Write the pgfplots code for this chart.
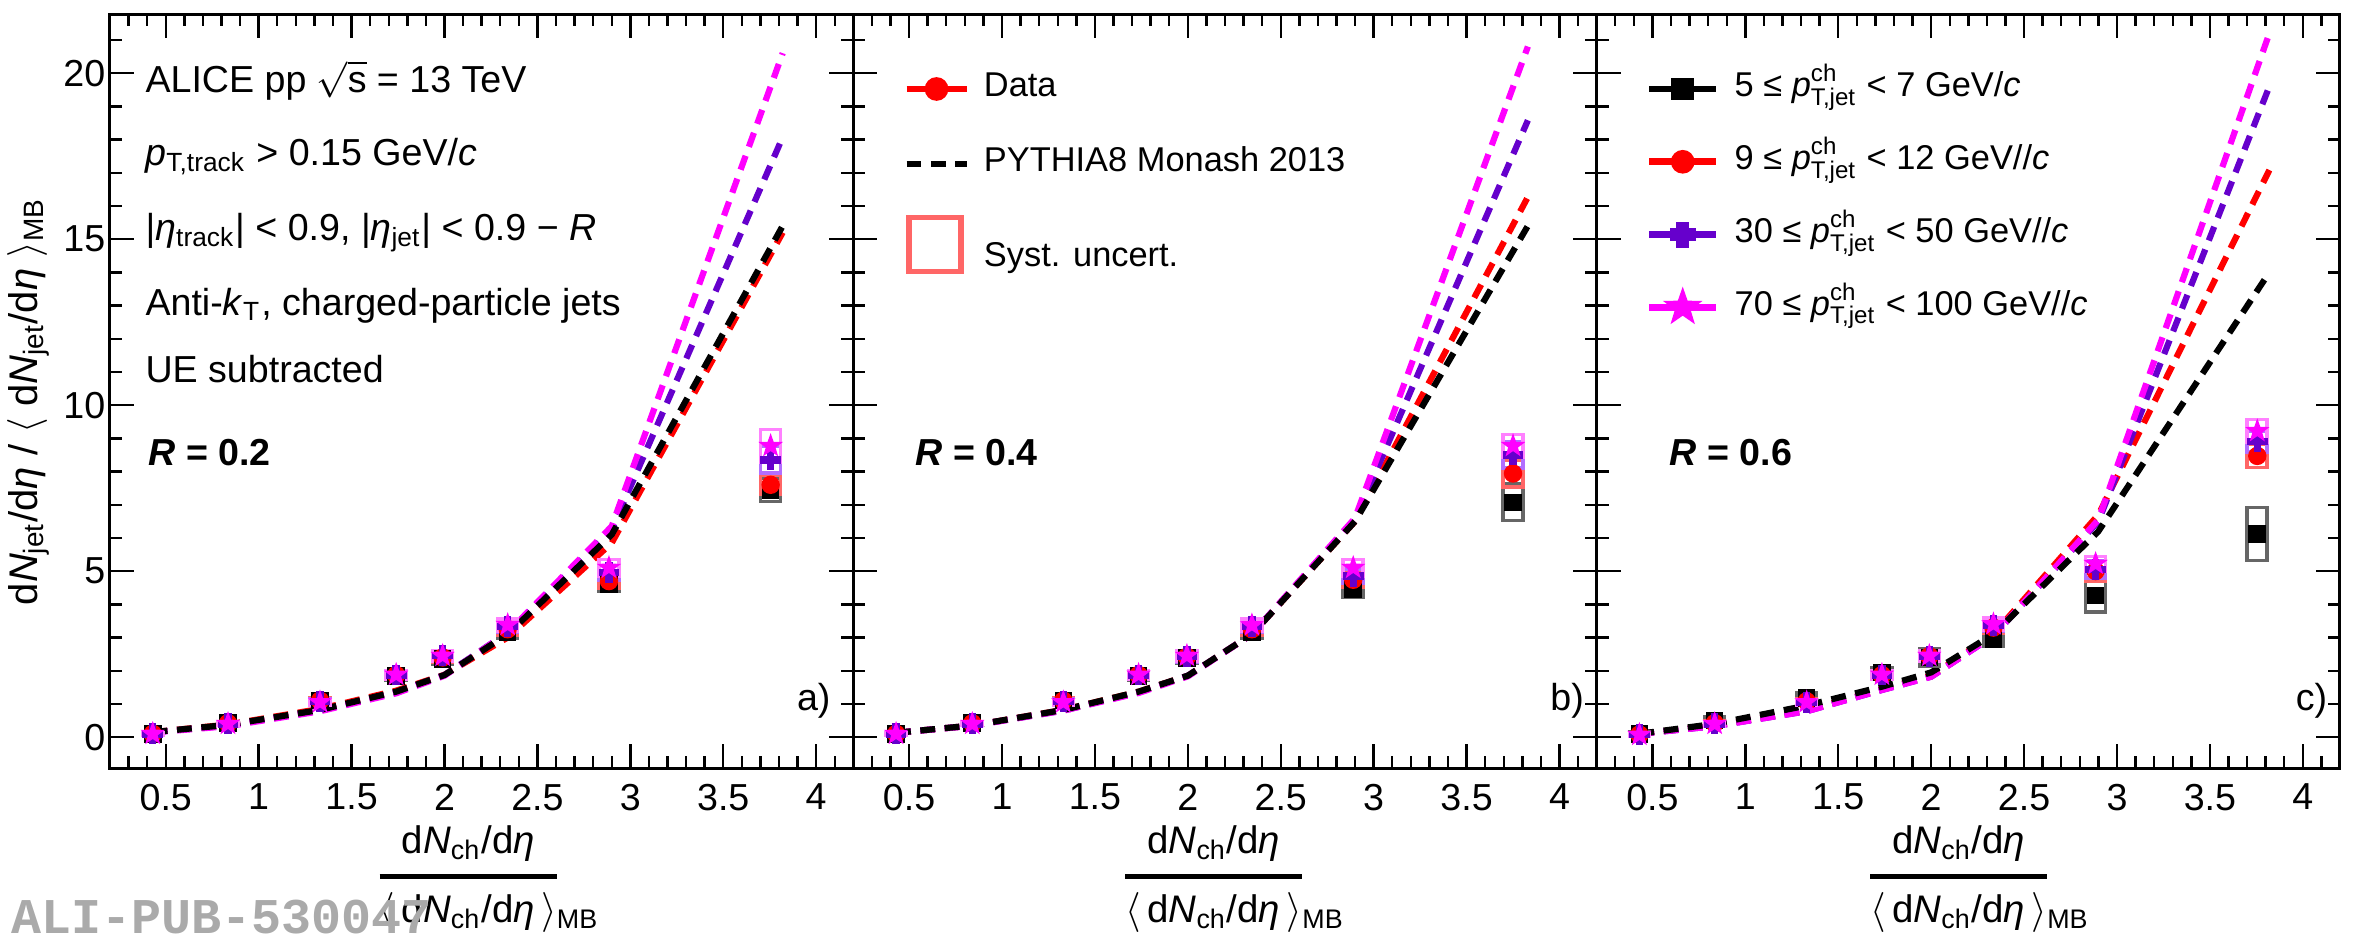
\documentclass[border=0pt]{standalone}
\usepackage{amsmath}
\usepackage{fontspec}
\setmainfont{Liberation Sans}
\newfontfamily\alimono{Liberation Mono}
\usepackage{pgfplots}
\usepackage{pgfplotstable}
\pgfplotsset{compat=1.18}

\definecolor{cpur}{RGB}{102,0,204}
\definecolor{cmag}{RGB}{255,0,255}
\definecolor{sblk}{RGB}{102,102,102}
\definecolor{sred}{RGB}{255,102,102}
\definecolor{spur}{RGB}{178,110,255}
\definecolor{smag}{RGB}{255,128,255}
\definecolor{alig}{RGB}{170,170,170}

\def\sy{0}
\pgfdeclareplotmark{sbox}{%
  \pgfpathrectangle{\pgfpoint{-2.5pt}{-\sy pt}}{\pgfpoint{5pt}{2*\sy pt}}%
  \pgfusepathqstroke}
\pgfdeclareplotmark{fullstar}{%
  \pgfpathmoveto{\pgfpointpolar{90}{\pgfplotmarksize}}%
  \pgfpathlineto{\pgfpointpolar{126}{0.4\pgfplotmarksize}}%
  \pgfpathlineto{\pgfpointpolar{162}{\pgfplotmarksize}}%
  \pgfpathlineto{\pgfpointpolar{198}{0.4\pgfplotmarksize}}%
  \pgfpathlineto{\pgfpointpolar{234}{\pgfplotmarksize}}%
  \pgfpathlineto{\pgfpointpolar{270}{0.4\pgfplotmarksize}}%
  \pgfpathlineto{\pgfpointpolar{306}{\pgfplotmarksize}}%
  \pgfpathlineto{\pgfpointpolar{342}{0.4\pgfplotmarksize}}%
  \pgfpathlineto{\pgfpointpolar{18}{\pgfplotmarksize}}%
  \pgfpathlineto{\pgfpointpolar{54}{0.4\pgfplotmarksize}}%
  \pgfpathclose\pgfusepathqfillstroke}
\pgfdeclareplotmark{fullcross}{%
  \pgfpathmoveto{\pgfpoint{0.3\pgfplotmarksize}{\pgfplotmarksize}}%
  \pgfpathlineto{\pgfpoint{-0.3\pgfplotmarksize}{\pgfplotmarksize}}%
  \pgfpathlineto{\pgfpoint{-0.3\pgfplotmarksize}{0.3\pgfplotmarksize}}%
  \pgfpathlineto{\pgfpoint{-\pgfplotmarksize}{0.3\pgfplotmarksize}}%
  \pgfpathlineto{\pgfpoint{-\pgfplotmarksize}{-0.3\pgfplotmarksize}}%
  \pgfpathlineto{\pgfpoint{-0.3\pgfplotmarksize}{-0.3\pgfplotmarksize}}%
  \pgfpathlineto{\pgfpoint{-0.3\pgfplotmarksize}{-\pgfplotmarksize}}%
  \pgfpathlineto{\pgfpoint{0.3\pgfplotmarksize}{-\pgfplotmarksize}}%
  \pgfpathlineto{\pgfpoint{0.3\pgfplotmarksize}{-0.3\pgfplotmarksize}}%
  \pgfpathlineto{\pgfpoint{\pgfplotmarksize}{-0.3\pgfplotmarksize}}%
  \pgfpathlineto{\pgfpoint{\pgfplotmarksize}{0.3\pgfplotmarksize}}%
  \pgfpathlineto{\pgfpoint{0.3\pgfplotmarksize}{0.3\pgfplotmarksize}}%
  \pgfpathclose\pgfusepathqfillstroke}

% data: x, value and syst. uncertainty per pT,jet bin (1: 5-7, 2: 9-12, 3: 30-50, 4: 70-100)
\pgfplotstableread{
x y1 s1 y2 s2 y3 s3 y4 s4
0.430 0.10 0.03 0.10 0.03 0.10 0.03 0.10 0.03
0.835 0.42 0.05 0.42 0.05 0.40 0.05 0.40 0.05
1.330 1.10 0.08 1.10 0.08 1.08 0.08 1.05 0.08
1.740 1.85 0.12 1.87 0.12 1.87 0.12 1.88 0.12
1.990 2.35 0.15 2.40 0.15 2.45 0.15 2.45 0.15
2.340 3.15 0.18 3.25 0.18 3.33 0.18 3.38 0.18
2.885 4.62 0.22 4.70 0.20 4.95 0.22 5.10 0.25
3.755 7.45 0.35 7.60 0.28 8.35 0.40 8.77 0.50
}\dataA
\pgfplotstableread{
x y1 s1 y2 s2 y3 s3 y4 s4
0.430 0.10 0.03 0.10 0.03 0.10 0.03 0.10 0.03
0.840 0.42 0.05 0.42 0.05 0.40 0.05 0.40 0.05
1.330 1.10 0.08 1.10 0.08 1.08 0.08 1.05 0.08
1.735 1.85 0.12 1.87 0.12 1.87 0.12 1.88 0.12
1.995 2.38 0.15 2.42 0.15 2.42 0.15 2.45 0.15
2.345 3.15 0.18 3.25 0.18 3.33 0.18 3.37 0.18
2.890 4.47 0.25 4.74 0.22 4.85 0.22 5.10 0.25
3.750 7.07 0.55 7.94 0.40 8.50 0.40 8.77 0.35
}\dataB
\pgfplotstableread{
x y1 s1 y2 s2 y3 s3 y4 s4
0.430 0.10 0.05 0.08 0.04 0.07 0.04 0.07 0.04
0.835 0.50 0.12 0.42 0.06 0.40 0.06 0.40 0.06
1.330 1.18 0.15 1.08 0.08 1.05 0.08 1.05 0.08
1.735 1.95 0.15 1.87 0.12 1.87 0.12 1.88 0.12
1.990 2.40 0.25 2.44 0.15 2.44 0.15 2.45 0.15
2.335 2.95 0.20 3.30 0.18 3.37 0.18 3.40 0.18
2.885 4.27 0.50 5.00 0.30 5.05 0.25 5.22 0.22
3.755 6.12 0.80 8.47 0.35 8.90 0.32 9.22 0.35
}\dataC
% PYTHIA8 Monash 2013
\pgfplotstableread{
x p1 p2 p3 p4
0.430 0.15 0.15 0.15 0.14
0.835 0.37 0.38 0.35 0.33
1.330 0.82 0.85 0.80 0.78
1.740 1.37 1.40 1.35 1.32
2.000 1.87 1.88 1.87 1.85
2.340 3.10 3.00 3.15 3.15
2.900 6.10 5.85 6.25 6.35
3.820 15.40 15.20 18.07 20.60
}\pyA
\pgfplotstableread{
x p1 p2 p3 p4
0.430 0.13 0.13 0.13 0.13
0.840 0.35 0.35 0.35 0.34
1.330 0.82 0.82 0.80 0.80
1.735 1.37 1.37 1.35 1.33
2.000 1.85 1.85 1.85 1.83
2.345 3.10 3.10 3.10 3.10
2.900 6.50 6.50 6.55 6.60
3.830 15.40 16.27 18.58 20.80
}\pyB
\pgfplotstableread{
x p1 p2 p3 p4
0.430 0.10 0.10 0.10 0.10
0.835 0.40 0.35 0.33 0.33
1.330 0.95 0.80 0.78 0.78
1.735 1.52 1.45 1.42 1.42
2.000 1.95 1.85 1.82 1.82
2.335 3.10 3.10 3.05 3.05
2.900 6.20 6.70 6.50 6.55
3.820 14.00 17.08 19.60 21.20
}\pyC

\newcommand{\mainfs}{\fontsize{9.4}{11}\selectfont}
\newcommand{\legfs}{\fontsize{8.6}{10}\selectfont}

\pgfplotsset{
  panel/.style={
    scale only axis, width=185.83pt, height=188.5pt,
    xmin=0.2, xmax=4.2, ymin=-0.93, ymax=21.78,
    xtick={0.5,1,1.5,2,2.5,3,3.5,4},
    xticklabels={0.5,1,1.5,2,2.5,3,3.5,4},
    minor xtick={0.3,0.4,0.6,0.7,0.8,0.9,1.1,1.2,1.3,1.4,1.6,1.7,1.8,1.9,2.1,2.2,2.3,2.4,2.6,2.7,2.8,2.9,3.1,3.2,3.3,3.4,3.6,3.7,3.8,3.9,4.1},
    ytick={0,5,10,15,20},
    minor ytick={1,2,3,4,6,7,8,9,11,12,13,14,16,17,18,19,21},
    tick align=inside,
    major tick length=6pt, minor tick length=3pt,
    tick style={black, line width=0.6pt},
    axis line style={black, line width=0.75pt},
    xticklabel style={font=\mainfs, inner sep=0pt, anchor=north, yshift=-3.75pt},
    yticklabel style={font=\mainfs, inner sep=0pt, anchor=east, xshift=-1pt},
    clip=false,
    font=\mainfs,
  },
  dstyle/.style={forget plot, only marks},
  pystyle/.style={forget plot, no marks, line width=1.55pt, dash pattern=on 3.7pt off 2.4pt},
}

\newcommand{\allplots}[2]{%
  \addplot[dstyle, mark=sbox, sblk, line width=0.9pt, visualization depends on={8.30*\thisrow{s1}\as\sy}] table[x=x,y=y1]{#1};
  \addplot[dstyle, mark=sbox, sred, line width=0.9pt, visualization depends on={8.30*\thisrow{s2}\as\sy}] table[x=x,y=y2]{#1};
  \addplot[dstyle, mark=sbox, spur, line width=0.9pt, visualization depends on={8.30*\thisrow{s3}\as\sy}] table[x=x,y=y3]{#1};
  \addplot[dstyle, mark=sbox, smag, line width=0.9pt, visualization depends on={8.30*\thisrow{s4}\as\sy}] table[x=x,y=y4]{#1};
  \addplot[dstyle, mark=square*, mark size=2pt, black] table[x=x,y=y1]{#1};
  \addplot[dstyle, mark=*, mark size=2.1pt, red] table[x=x,y=y2]{#1};
  \addplot[dstyle, mark=fullcross, mark size=2.4pt, cpur] table[x=x,y=y3]{#1};
  \addplot[dstyle, mark=fullstar, mark size=2.6pt, cmag] table[x=x,y=y4]{#1};
  \addplot[pystyle, red] table[x=x,y=p2]{#2};
  \addplot[pystyle, cpur] table[x=x,y=p3]{#2};
  \addplot[pystyle, cmag] table[x=x,y=p4]{#2};
  \addplot[pystyle, black] table[x=x,y=p1]{#2};
}
\newcommand{\pjet}{\textit{p}$^{\text{ch}}_{\text{T,jet}}$}
\newcommand{\etai}{\textit{η}}

\begin{document}
\begin{tikzpicture}
\path[use as bounding box] (0,0) rectangle (590.75pt,236.5pt);

% ---------- panel a ----------
\begin{axis}[panel, at={(27.5pt,44.5pt)}, anchor=south west,
  yticklabels={0,5,10,15,20}]
\allplots{\dataA}{\pyA}
\node[anchor=base west, inner sep=0pt] at (axis cs:0.387,19.43) {ALICE pp $\sqrt{\text{s}}$ = 13 TeV};
\node[anchor=base west, inner sep=0pt] at (axis cs:0.387,17.23) {\textit{p}$_{\text{T,track}}$ > 0.15 GeV/\textit{c}};
\node[anchor=base west, inner sep=0pt] at (axis cs:0.387,14.97) {|\etai$_{\text{track}}$| < 0.9, |\etai$_{\text{jet}}$| < 0.9 − \textit{R}};
\node[anchor=base west, inner sep=0pt] at (axis cs:0.387,12.71) {Anti-\textit{k}$_{\text{T}}$, charged-particle jets};
\node[anchor=base west, inner sep=0pt] at (axis cs:0.387,10.69) {UE subtracted};
\node[anchor=base west, inner sep=0pt] at (axis cs:0.403,8.19) {\bfseries\textit{R} = 0.2};
\node[anchor=base east, inner sep=0pt, xshift=-5.5pt] at (axis cs:4.2,0.8) {a)};
\node[anchor=base, rotate=90, inner sep=0pt, font=\fontsize{10}{12}\selectfont] at (axis description cs:-0.098,0.486)
  {d\textit{N}$_{\text{jet}}$/d\etai\ / $\langle$ d\textit{N}$_{\text{jet}}$/d\etai\ $\rangle_{\text{MB}}$};
\node[anchor=base, inner sep=0pt, yshift=-29.65pt, font=\fontsize{9.6}{11}\selectfont] at (axis description cs:0.482,0)
  {$\genfrac{}{}{1.1pt}{0}{\text{d\textit{N}$_{\text{ch}}$/d\etai}}{\langle\,\text{d\textit{N}$_{\text{ch}}$/d\etai}\,\rangle\rlap{$_{\text{MB}}$}}$};
\end{axis}

% ---------- panel b ----------
\begin{axis}[panel, at={(213.33pt,44.5pt)}, anchor=south west,
  yticklabels={},
  legend style={draw=none, fill=none, at={(axis description cs:0.067,0.9324)}, anchor=north west,
    inner sep=0pt, outer sep=0pt, font=\legfs, row sep=6.75pt,
    nodes={inner sep=0pt, text height=8pt, text depth=4pt},
    /tikz/every odd column/.append style={column sep=3.5pt}},
  legend cell align=left,
  legend image code/.code={\draw[mark repeat=2,mark phase=2,#1] plot coordinates {(0pt,0pt) (7.5pt,0pt) (15pt,0pt)};}]
\allplots{\dataB}{\pyB}
\addlegendimage{red, line width=1.7pt, mark=*, mark size=2.1pt, mark options={solid}}
\addlegendentry{Data}
\addlegendimage{black, line width=1.55pt, dash pattern=on 3.7pt off 2.4pt}
\addlegendentry{PYTHIA8 Monash 2013}
\addlegendimage{legend image code/.code={\draw[sred, line width=1.3pt] (0.6pt,-3.2pt) rectangle (13.6pt,10.3pt);}}
\addlegendentry{Syst. uncert.}
\node[anchor=base west, inner sep=0pt] at (axis cs:0.530,8.19) {\bfseries\textit{R} = 0.4};
\node[anchor=base east, inner sep=0pt, xshift=-3pt] at (axis cs:4.2,0.8) {b)};
\node[anchor=base, inner sep=0pt, yshift=-29.65pt, font=\fontsize{9.6}{11}\selectfont] at (axis description cs:0.485,0)
  {$\genfrac{}{}{1.1pt}{0}{\text{d\textit{N}$_{\text{ch}}$/d\etai}}{\langle\,\text{d\textit{N}$_{\text{ch}}$/d\etai}\,\rangle\rlap{$_{\text{MB}}$}}$};
\end{axis}

% ---------- panel c ----------
\begin{axis}[panel, at={(399.16pt,44.5pt)}, anchor=south west,
  yticklabels={},
  legend style={draw=none, fill=none, at={(axis description cs:0.066,0.9324)}, anchor=north west,
    inner sep=0pt, outer sep=0pt, font=\legfs, row sep=6.2pt,
    nodes={inner sep=0pt, text height=8pt, text depth=4pt},
    /tikz/every odd column/.append style={column sep=3.75pt}},
  legend cell align=left,
  legend image code/.code={\draw[mark repeat=2,mark phase=2,#1] plot coordinates {(0pt,0pt) (8.4pt,0pt) (16.8pt,0pt)};}]
\allplots{\dataC}{\pyC}
\addlegendimage{black, line width=1.7pt, mark=square*, mark size=2pt, mark options={solid}}
\addlegendentry{5 ≤ \pjet{} < 7 GeV/\textit{c}}
\addlegendimage{red, line width=1.7pt, mark=*, mark size=2.1pt, mark options={solid}}
\addlegendentry{9 ≤ \pjet{} < 12 GeV//\textit{c}}
\addlegendimage{cpur, line width=1.7pt, mark=fullcross, mark size=2.4pt, mark options={solid}}
\addlegendentry{30 ≤ \pjet{} < 50 GeV//\textit{c}}
\addlegendimage{cmag, line width=1.7pt, mark=fullstar, mark size=2.6pt, mark options={solid}}
\addlegendentry{70 ≤ \pjet{} < 100 GeV//\textit{c}}
\node[anchor=base west, inner sep=0pt] at (axis cs:0.589,8.19) {\bfseries\textit{R} = 0.6};
\node[anchor=base east, inner sep=0pt, xshift=-3pt] at (axis cs:4.2,0.8) {c)};
\node[anchor=base, inner sep=0pt, yshift=-29.65pt, font=\fontsize{9.6}{11}\selectfont] at (axis description cs:0.487,0)
  {$\genfrac{}{}{1.1pt}{0}{\text{d\textit{N}$_{\text{ch}}$/d\etai}}{\langle\,\text{d\textit{N}$_{\text{ch}}$/d\etai}\,\rangle\rlap{$_{\text{MB}}$}}$};
\end{axis}

\node[anchor=base west, inner sep=0pt, text=alig, font=\alimono\bfseries\fontsize{12.5}{14}\selectfont] at (2.75pt,3.25pt) {ALI-PUB-530047};
\end{tikzpicture}
\end{document}
